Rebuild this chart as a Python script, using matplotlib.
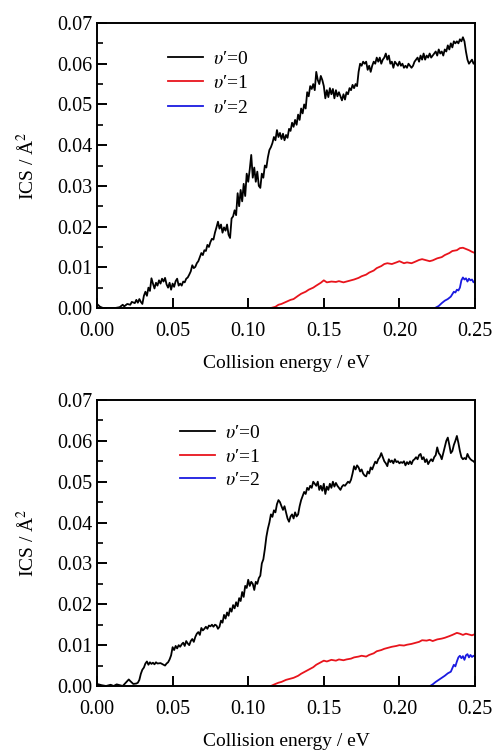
import matplotlib
matplotlib.use("Agg")
import matplotlib.pyplot as plt
from matplotlib.ticker import MultipleLocator

plt.rcParams["font.family"] = ["Liberation Serif", "DejaVu Serif"]
plt.rcParams["mathtext.fontset"] = "stix"

# ---- upper panel ----
e_top_v0 = [0.000, 0.002, 0.004, 0.008, 0.012, 0.015, 0.017, 0.018, 0.020, 0.022,
            0.023, 0.025, 0.026, 0.027, 0.028, 0.029, 0.030, 0.031, 0.032, 0.033,
            0.034, 0.035, 0.036, 0.037, 0.038, 0.039, 0.040, 0.041, 0.042, 0.043,
            0.044, 0.045, 0.046, 0.047, 0.048, 0.049, 0.050, 0.051, 0.052, 0.053,
            0.054, 0.055, 0.056, 0.057, 0.058, 0.059, 0.060, 0.061, 0.062, 0.063,
            0.064, 0.065, 0.066, 0.067, 0.068, 0.069, 0.070, 0.071, 0.072, 0.073,
            0.074, 0.075, 0.076, 0.077, 0.078, 0.079, 0.080, 0.081, 0.082, 0.083,
            0.084, 0.085, 0.086, 0.087, 0.088, 0.089, 0.090, 0.091, 0.092, 0.093,
            0.094, 0.095, 0.096, 0.097, 0.098, 0.099, 0.100, 0.101, 0.102, 0.103,
            0.104, 0.105, 0.106, 0.107, 0.108, 0.109, 0.110, 0.111, 0.112, 0.113,
            0.114, 0.115, 0.116, 0.117, 0.118, 0.119, 0.120, 0.121, 0.122, 0.123,
            0.124, 0.125, 0.126, 0.127, 0.128, 0.129, 0.130, 0.131, 0.132, 0.133,
            0.134, 0.135, 0.136, 0.137, 0.138, 0.139, 0.140, 0.141, 0.142, 0.143,
            0.144, 0.145, 0.146, 0.147, 0.148, 0.149, 0.150, 0.151, 0.152, 0.153,
            0.154, 0.155, 0.156, 0.157, 0.158, 0.159, 0.160, 0.161, 0.162, 0.163,
            0.164, 0.165, 0.166, 0.167, 0.168, 0.169, 0.170, 0.171, 0.172, 0.173,
            0.174, 0.175, 0.176, 0.177, 0.178, 0.179, 0.180, 0.181, 0.182, 0.183,
            0.184, 0.185, 0.186, 0.187, 0.188, 0.189, 0.190, 0.191, 0.192, 0.193,
            0.194, 0.195, 0.196, 0.197, 0.198, 0.199, 0.200, 0.201, 0.202, 0.203,
            0.204, 0.205, 0.206, 0.207, 0.208, 0.209, 0.210, 0.212, 0.213, 0.214,
            0.215, 0.216, 0.217, 0.218, 0.219, 0.220, 0.221, 0.222, 0.224, 0.225,
            0.226, 0.227, 0.228, 0.229, 0.230, 0.231, 0.232, 0.233, 0.234, 0.235,
            0.236, 0.237, 0.238, 0.239, 0.240, 0.241, 0.242, 0.243, 0.244, 0.245,
            0.246, 0.247, 0.248, 0.249, 0.250]
ics_top_v0 = [0.0010, 0.0003, 0.0000, 0.0000, 0.0000, 0.0002, 0.0008, 0.0004, 0.0010, 0.0008,
              0.0015, 0.0012, 0.0020, 0.0013, 0.0022, 0.0015, 0.0010, 0.0030, 0.0040, 0.0030,
              0.0050, 0.0042, 0.0073, 0.0060, 0.0048, 0.0062, 0.0055, 0.0068, 0.0060, 0.0072,
              0.0065, 0.0074, 0.0058, 0.0050, 0.0062, 0.0045, 0.0060, 0.0052, 0.0066, 0.0072,
              0.0055, 0.0060, 0.0055, 0.0065, 0.0063, 0.0072, 0.0075, 0.0082, 0.0090, 0.0105,
              0.0098, 0.0101, 0.0110, 0.0115, 0.0125, 0.0135, 0.0130, 0.0142, 0.0140, 0.0155,
              0.0150, 0.0162, 0.0170, 0.0168, 0.0185, 0.0198, 0.0212, 0.0195, 0.0205, 0.0185,
              0.0198, 0.0190, 0.0205, 0.0180, 0.0172, 0.0220, 0.0225, 0.0240, 0.0228, 0.0282,
              0.0250, 0.0290, 0.0262, 0.0305, 0.0275, 0.0330, 0.0310, 0.0340, 0.0376, 0.0320,
              0.0345, 0.0310, 0.0335, 0.0300, 0.0295, 0.0330, 0.0320, 0.0350, 0.0345, 0.0370,
              0.0388, 0.0395, 0.0405, 0.0420, 0.0412, 0.0437, 0.0420, 0.0430, 0.0415, 0.0428,
              0.0412, 0.0425, 0.0418, 0.0440, 0.0435, 0.0455, 0.0445, 0.0462, 0.0450, 0.0475,
              0.0462, 0.0490, 0.0478, 0.0500, 0.0490, 0.0530, 0.0520, 0.0545, 0.0538, 0.0550,
              0.0535, 0.0580, 0.0560, 0.0550, 0.0570, 0.0560, 0.0545, 0.0515, 0.0535, 0.0518,
              0.0540, 0.0525, 0.0538, 0.0515, 0.0535, 0.0520, 0.0530, 0.0520, 0.0510, 0.0525,
              0.0512, 0.0530, 0.0525, 0.0540, 0.0535, 0.0548, 0.0540, 0.0550, 0.0545, 0.0580,
              0.0600, 0.0595, 0.0605, 0.0600, 0.0605, 0.0585, 0.0595, 0.0580, 0.0595, 0.0605,
              0.0600, 0.0615, 0.0605, 0.0615, 0.0600, 0.0610, 0.0615, 0.0625, 0.0610, 0.0620,
              0.0600, 0.0605, 0.0590, 0.0605, 0.0600, 0.0595, 0.0605, 0.0595, 0.0600, 0.0590,
              0.0595, 0.0590, 0.0600, 0.0595, 0.0590, 0.0595, 0.0605, 0.0615, 0.0605, 0.0620,
              0.0610, 0.0625, 0.0610, 0.0620, 0.0615, 0.0625, 0.0615, 0.0620, 0.0630, 0.0620,
              0.0635, 0.0625, 0.0630, 0.0620, 0.0635, 0.0630, 0.0645, 0.0635, 0.0650, 0.0640,
              0.0655, 0.0650, 0.0655, 0.0650, 0.0660, 0.0655, 0.0665, 0.0655, 0.0630, 0.0610,
              0.0600, 0.0605, 0.0610, 0.0600, 0.0605]

e_top_v1 = [0.115, 0.118, 0.120, 0.122, 0.125, 0.128, 0.130, 0.133, 0.135, 0.138,
            0.140, 0.143, 0.145, 0.148, 0.150, 0.152, 0.155, 0.158, 0.160, 0.163,
            0.165, 0.168, 0.170, 0.173, 0.175, 0.178, 0.180, 0.183, 0.185, 0.188,
            0.190, 0.192, 0.195, 0.198, 0.200, 0.203, 0.205, 0.208, 0.210, 0.213,
            0.215, 0.218, 0.220, 0.222, 0.225, 0.228, 0.230, 0.233, 0.235, 0.238,
            0.240, 0.242, 0.244, 0.246, 0.248, 0.250]
ics_top_v1 = [0.0000, 0.0003, 0.0008, 0.0010, 0.0015, 0.0020, 0.0022, 0.0030, 0.0035, 0.0040,
              0.0045, 0.0050, 0.0055, 0.0062, 0.0068, 0.0063, 0.0065, 0.0064, 0.0066, 0.0063,
              0.0065, 0.0068, 0.0070, 0.0074, 0.0078, 0.0082, 0.0087, 0.0092, 0.0098, 0.0103,
              0.0108, 0.0110, 0.0108, 0.0112, 0.0115, 0.0110, 0.0112, 0.0110, 0.0113, 0.0118,
              0.0120, 0.0117, 0.0115, 0.0117, 0.0122, 0.0125, 0.0130, 0.0135, 0.0140, 0.0142,
              0.0147, 0.0148, 0.0145, 0.0142, 0.0138, 0.0135]

e_top_v2 = [0.2235, 0.226, 0.228, 0.230, 0.232, 0.234, 0.236, 0.237, 0.238, 0.239,
            0.240, 0.241, 0.242, 0.243, 0.244, 0.245, 0.246, 0.247, 0.248, 0.249, 0.250]
ics_top_v2 = [0.0000, 0.0005, 0.0012, 0.0018, 0.0022, 0.0028, 0.0040, 0.0038, 0.0045, 0.0043,
              0.0050, 0.0068, 0.0075, 0.0070, 0.0073, 0.0065, 0.0072, 0.0068, 0.0070, 0.0063, 0.0067]

# ---- lower panel ----
e_bot_v0 = [0.000, 0.003, 0.006, 0.009, 0.011, 0.013, 0.015, 0.017, 0.019, 0.021,
            0.022, 0.024, 0.026, 0.027, 0.028, 0.029, 0.030, 0.031, 0.032, 0.033,
            0.034, 0.035, 0.036, 0.037, 0.038, 0.039, 0.040, 0.042, 0.044, 0.045,
            0.046, 0.047, 0.048, 0.049, 0.050, 0.051, 0.052, 0.053, 0.054, 0.055,
            0.056, 0.057, 0.058, 0.059, 0.060, 0.061, 0.062, 0.063, 0.064, 0.065,
            0.066, 0.067, 0.068, 0.069, 0.070, 0.071, 0.072, 0.073, 0.074, 0.075,
            0.076, 0.077, 0.078, 0.079, 0.080, 0.081, 0.082, 0.083, 0.084, 0.085,
            0.086, 0.087, 0.088, 0.089, 0.090, 0.091, 0.092, 0.093, 0.094, 0.095,
            0.096, 0.097, 0.098, 0.099, 0.100, 0.101, 0.102, 0.103, 0.104, 0.105,
            0.106, 0.107, 0.108, 0.109, 0.110, 0.111, 0.112, 0.113, 0.114, 0.115,
            0.116, 0.117, 0.118, 0.119, 0.120, 0.121, 0.122, 0.123, 0.124, 0.125,
            0.126, 0.127, 0.128, 0.129, 0.130, 0.131, 0.132, 0.133, 0.134, 0.135,
            0.136, 0.137, 0.138, 0.139, 0.140, 0.141, 0.142, 0.143, 0.144, 0.145,
            0.146, 0.147, 0.148, 0.149, 0.150, 0.151, 0.152, 0.153, 0.154, 0.155,
            0.156, 0.157, 0.158, 0.159, 0.160, 0.161, 0.162, 0.163, 0.164, 0.165,
            0.166, 0.167, 0.168, 0.169, 0.170, 0.171, 0.172, 0.173, 0.174, 0.175,
            0.176, 0.177, 0.178, 0.179, 0.180, 0.181, 0.182, 0.183, 0.184, 0.185,
            0.186, 0.187, 0.188, 0.189, 0.190, 0.191, 0.192, 0.193, 0.194, 0.195,
            0.196, 0.197, 0.198, 0.199, 0.200, 0.201, 0.202, 0.203, 0.204, 0.205,
            0.206, 0.207, 0.208, 0.209, 0.210, 0.211, 0.212, 0.213, 0.214, 0.215,
            0.216, 0.217, 0.218, 0.219, 0.220, 0.221, 0.222, 0.223, 0.224, 0.225,
            0.226, 0.227, 0.228, 0.229, 0.230, 0.231, 0.232, 0.233, 0.234, 0.235,
            0.236, 0.237, 0.238, 0.239, 0.240, 0.241, 0.242, 0.243, 0.244, 0.245,
            0.246, 0.247, 0.248, 0.249, 0.250]
ics_bot_v0 = [0.0005, 0.0002, 0.0000, 0.0003, 0.0000, 0.0004, 0.0002, 0.0000, 0.0008, 0.0016,
              0.0012, 0.0005, 0.0006, 0.0008, 0.0015, 0.0030, 0.0040, 0.0045, 0.0055, 0.0060,
              0.0052, 0.0058, 0.0054, 0.0057, 0.0053, 0.0058, 0.0055, 0.0056, 0.0052, 0.0050,
              0.0055, 0.0058, 0.0065, 0.0075, 0.0095, 0.0088, 0.0098, 0.0092, 0.0100, 0.0096,
              0.0102, 0.0106, 0.0098, 0.0110, 0.0104, 0.0100, 0.0110, 0.0115, 0.0108, 0.0120,
              0.0128, 0.0132, 0.0125, 0.0142, 0.0136, 0.0140, 0.0145, 0.0140, 0.0148, 0.0146,
              0.0150, 0.0145, 0.0150, 0.0148, 0.0140, 0.0145, 0.0160, 0.0155, 0.0174, 0.0165,
              0.0180, 0.0172, 0.0190, 0.0182, 0.0198, 0.0190, 0.0205, 0.0195, 0.0215, 0.0208,
              0.0230, 0.0218, 0.0245, 0.0240, 0.0260, 0.0245, 0.0255, 0.0250, 0.0235, 0.0255,
              0.0250, 0.0264, 0.0270, 0.0300, 0.0310, 0.0335, 0.0365, 0.0385, 0.0400, 0.0420,
              0.0414, 0.0430, 0.0425, 0.0445, 0.0455, 0.0450, 0.0440, 0.0431, 0.0440, 0.0425,
              0.0410, 0.0402, 0.0415, 0.0420, 0.0410, 0.0425, 0.0415, 0.0420, 0.0440, 0.0455,
              0.0465, 0.0475, 0.0470, 0.0485, 0.0480, 0.0490, 0.0485, 0.0500, 0.0495, 0.0490,
              0.0500, 0.0480, 0.0490, 0.0478, 0.0495, 0.0470, 0.0488, 0.0480, 0.0495, 0.0485,
              0.0500, 0.0488, 0.0497, 0.0490, 0.0485, 0.0480, 0.0488, 0.0492, 0.0490, 0.0495,
              0.0500, 0.0497, 0.0505, 0.0520, 0.0538, 0.0530, 0.0540, 0.0535, 0.0525, 0.0530,
              0.0520, 0.0515, 0.0513, 0.0525, 0.0520, 0.0535, 0.0530, 0.0540, 0.0549, 0.0545,
              0.0555, 0.0560, 0.0570, 0.0560, 0.0550, 0.0545, 0.0538, 0.0555, 0.0548, 0.0552,
              0.0545, 0.0555, 0.0548, 0.0550, 0.0545, 0.0548, 0.0546, 0.0550, 0.0540, 0.0548,
              0.0543, 0.0550, 0.0543, 0.0552, 0.0555, 0.0560, 0.0555, 0.0565, 0.0568, 0.0555,
              0.0560, 0.0548, 0.0555, 0.0543, 0.0550, 0.0555, 0.0550, 0.0560, 0.0565, 0.0584,
              0.0570, 0.0565, 0.0555, 0.0570, 0.0585, 0.0600, 0.0608, 0.0590, 0.0570, 0.0575,
              0.0590, 0.0600, 0.0612, 0.0595, 0.0575, 0.0560, 0.0555, 0.0558, 0.0555, 0.0568,
              0.0560, 0.0555, 0.0552, 0.0550, 0.0546]

e_bot_v1 = [0.115, 0.118, 0.120, 0.122, 0.125, 0.128, 0.130, 0.133, 0.135, 0.138,
            0.140, 0.143, 0.145, 0.148, 0.150, 0.152, 0.155, 0.158, 0.160, 0.163,
            0.165, 0.168, 0.170, 0.173, 0.175, 0.178, 0.180, 0.183, 0.185, 0.188,
            0.190, 0.193, 0.195, 0.198, 0.200, 0.203, 0.205, 0.208, 0.210, 0.213,
            0.215, 0.218, 0.220, 0.222, 0.225, 0.228, 0.230, 0.233, 0.235, 0.238,
            0.240, 0.242, 0.244, 0.246, 0.248, 0.250]
ics_bot_v1 = [0.0000, 0.0005, 0.0008, 0.0010, 0.0015, 0.0018, 0.0020, 0.0025, 0.0030, 0.0036,
              0.0040, 0.0046, 0.0052, 0.0058, 0.0062, 0.0060, 0.0064, 0.0062, 0.0065, 0.0063,
              0.0065, 0.0067, 0.0070, 0.0072, 0.0074, 0.0072, 0.0076, 0.0080, 0.0085, 0.0088,
              0.0091, 0.0094, 0.0096, 0.0098, 0.0100, 0.0099, 0.0101, 0.0103, 0.0105, 0.0108,
              0.0112, 0.0111, 0.0113, 0.0110, 0.0114, 0.0116, 0.0118, 0.0122, 0.0125, 0.0130,
              0.0128, 0.0125, 0.0128, 0.0126, 0.0124, 0.0127]

e_bot_v2 = [0.2203, 0.222, 0.224, 0.226, 0.228, 0.230, 0.232, 0.234, 0.236, 0.237,
            0.238, 0.239, 0.240, 0.241, 0.242, 0.243, 0.244, 0.245, 0.246, 0.247,
            0.248, 0.249, 0.250]
ics_bot_v2 = [0.0000, 0.0004, 0.0010, 0.0015, 0.0020, 0.0025, 0.0031, 0.0035, 0.0052, 0.0048,
              0.0060, 0.0070, 0.0074, 0.0068, 0.0073, 0.0064, 0.0075, 0.0078, 0.0070, 0.0076,
              0.0071, 0.0074, 0.0072]

labels = [r"$\upsilon$′=0", r"$\upsilon$′=1", r"$\upsilon$′=2"]
colors = ["black", "#e8141c", "#1a1ae0"]

panels = [
    ([e_top_v0, e_top_v1, e_top_v2], [ics_top_v0, ics_top_v1, ics_top_v2],
     [0.1956, 0.5915, 0.7621, 0.378], (0.188, 0.905), 0.36),
    ([e_bot_v0, e_bot_v1, e_bot_v2], [ics_bot_v0, ics_bot_v1, ics_bot_v2],
     [0.1956, 0.0902, 0.7621, 0.3793], (0.22, 0.914), 0.30),
]

fig = plt.figure(figsize=(4.96, 7.54), dpi=100)
for xs, ys, rect, leg_pos, spacing in panels:
    ax = fig.add_axes(rect)
    for x, y, lab, c in zip(xs, ys, labels, colors):
        ax.plot(x, y, color=c, lw=1.3, label=lab)
    ax.set_xlim(0, 0.25)
    ax.set_ylim(0, 0.07)
    ax.xaxis.set_major_locator(MultipleLocator(0.05))
    ax.yaxis.set_major_locator(MultipleLocator(0.01))
    ax.yaxis.set_minor_locator(MultipleLocator(0.005))
    ax.xaxis.set_major_formatter(plt.FormatStrFormatter("%.2f"))
    ax.yaxis.set_major_formatter(plt.FormatStrFormatter("%.2f"))
    ax.tick_params(axis="both", which="major", direction="in", length=7, width=1.4,
                   labelsize=14.5, top=False, right=False)
    ax.tick_params(axis="y", which="minor", direction="in", length=4.5, width=1.2)
    ax.tick_params(axis="x", pad=10)
    ax.tick_params(axis="y", pad=3)
    for sp in ax.spines.values():
        sp.set_linewidth(1.4)
    ax.set_xlabel("Collision energy / eV", fontsize=14, labelpad=10)
    ax.set_ylabel("ICS / Å$^2$", fontsize=14, labelpad=14)
    ax.legend(loc="upper left", bbox_to_anchor=leg_pos, frameon=False, fontsize=14,
              handlelength=1.8, handletextpad=0.5, labelspacing=spacing,
              borderpad=0, borderaxespad=0)

fig.savefig("out.png", dpi=100)
